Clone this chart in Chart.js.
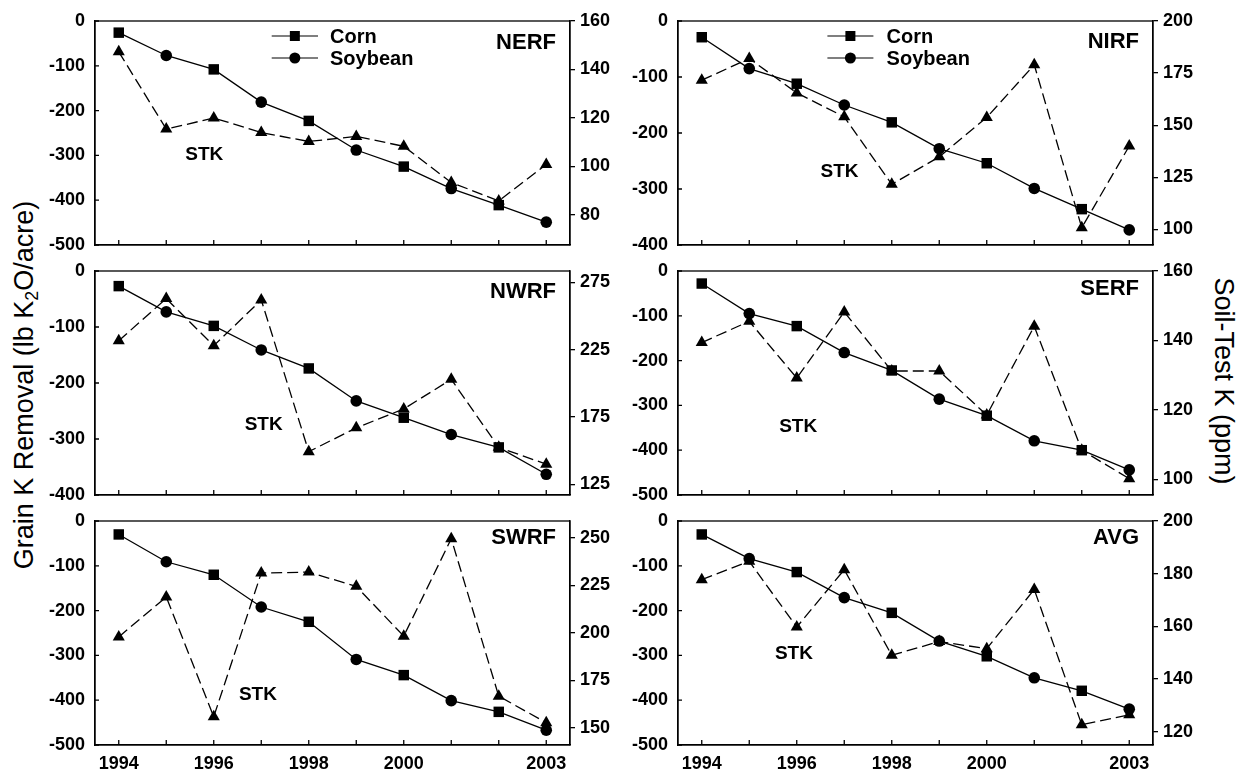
<!DOCTYPE html>
<html>
<head>
<meta charset="utf-8">
<script src="https://cdn.jsdelivr.net/npm/chart.js@4.4.0/dist/chart.umd.min.js"></script>
<style>
  body{margin:0;background:#fff;width:1244px;height:774px;overflow:hidden;position:relative;font-family:"Liberation Sans",Arial,sans-serif}
  canvas{position:absolute}
  .title{position:absolute;font-size:27px;line-height:1;white-space:nowrap;color:#000}
  .title sub{font-size:0.66em;vertical-align:-0.3em;line-height:0}
</style>
</head>
<body>
<div class="title" style="left:24px;top:385px;transform:translate(-50%,-50%) rotate(-90deg)">Grain K Removal (lb K<sub>2</sub>O/acre)</div>
<div class="title" style="left:1223px;top:381px;transform:translate(-50%,-50%) rotate(90deg)">Soil-Test K (ppm)</div>
<script>
// data
const years = [1994,1995,1996,1997,1998,1999,2000,2001,2002,2003]
const crops = ['Corn','Soybean','Corn','Soybean','Corn','Soybean','Corn','Soybean','Corn','Soybean']
const yearLabels = [1994,1996,1998,2000,2003]

const nerfRemoval = [-26,-77,-108,-181,-223,-288,-325,-374,-411,-449]
const nerfStk = [147.3,115.4,120,114,110.3,112.4,108.3,93.4,85.8,100.8]
const nerfTicks = [80,100,120,140,160]

const nirfRemoval = [-29,-85,-112,-150,-181,-228,-254,-299,-336,-373]
const nirfStk = [171.6,182,165.5,154,121.6,134.8,153.7,179,100.8,140]
const nirfTicks = [100,125,150,175,200]

const nwrfRemoval = [-27,-73,-98,-141,-174,-232,-262,-292,-315,-363]
const nwrfStk = [231.7,263,228,262,149.3,167,181,203,152.5,140]
const nwrfTicks = [125,175,225,275]

const serfRemoval = [-28,-95,-123,-182,-222,-286,-323,-379,-400,-444]
const serfStk = [139.4,145.5,129.2,148.2,131.2,131.2,118.5,144.1,108.4,100.2]
const serfTicks = [100,120,140,160]

const swrfRemoval = [-30,-91,-120,-192,-225,-309,-344,-401,-426,-467]
const swrfStk = [197.8,218.8,155.8,231.4,231.9,224.4,198.2,249.5,166.6,152.6]
const swrfTicks = [150,175,200,225,250]

const avgRemoval = [-30,-84,-114,-171,-205,-268,-302,-350,-379,-420]
const avgStk = [177.7,184.7,159.7,181.5,149,154.2,151.5,174,122.6,126.4]
const avgTicks = [120,140,160,180,200]

const FONT = '"Liberation Sans", Arial, sans-serif'
const PLOT_TOP = 21, PLOT_H = 224

// layout of the 6 panels
const col1 = {left:35, width:585, leftW:60, rightW:50, legend:[176.7,223,235]}
const col2 = {left:620, width:590, leftW:58, rightW:57, legend:[149.4,195.4,208.6]}
const rows = [{top:0, h:270}, {top:250, h:270}, {top:500, h:274}]

const panels = [
  {name:'NERF', col:col1, row:0, removal:nerfRemoval, stk:nerfStk, leftMin:-500, rMin:67.6, rMax:160, rTicks:nerfTicks, stkAt:[1995.8,-299], nameDy:22, legend:true},
  {name:'NIRF', col:col2, row:0, removal:nirfRemoval, stk:nirfStk, leftMin:-400, rMin:92.5, rMax:200, rTicks:nirfTicks, stkAt:[1996.9,-270], nameDy:21, legend:true},
  {name:'NWRF', col:col1, row:1, removal:nwrfRemoval, stk:nwrfStk, leftMin:-400, rMin:117.1, rMax:283.5, rTicks:nwrfTicks, stkAt:[1997.05,-275], nameDy:21},
  {name:'SERF', col:col2, row:1, removal:serfRemoval, stk:serfStk, leftMin:-500, rMin:95.5, rMax:160, rTicks:serfTicks, stkAt:[1996.03,-348], nameDy:18},
  {name:'SWRF', col:col1, row:2, removal:swrfRemoval, stk:swrfStk, leftMin:-500, rMin:140.9, rMax:258.8, rTicks:swrfTicks, stkAt:[1996.93,-388], nameDy:17, years:true},
  {name:'AVG', col:col2, row:2, removal:avgRemoval, stk:avgStk, leftMin:-500, rMin:114.9, rMax:200, rTicks:avgTicks, stkAt:[1995.94,-297], nameDy:17, years:true}
]

function marker(ctx, style, x, y){
  ctx.beginPath()
  if(style==='rect') ctx.rect(x-5,y-5,10,10)
  else ctx.arc(x,y,5.5,0,Math.PI*2)
  ctx.fill()
}

const decor = {
  id:'decor',
  afterDraw(chart){
    const p = chart.options.plugins.decor.panel
    const {ctx, chartArea:a, scales} = chart
    ctx.save()
    ctx.strokeStyle = '#000'; ctx.fillStyle = '#000'; ctx.lineWidth = 1.3
    ctx.strokeRect(a.left, a.top, a.right-a.left, a.bottom-a.top)
    // small inward ticks on the left and bottom axes
    ctx.beginPath()
    scales.y.ticks.forEach(t=>{ const y = scales.y.getPixelForValue(t.value); ctx.moveTo(a.left,y); ctx.lineTo(a.left+4,y) })
    years.forEach(v=>{ const x = scales.x.getPixelForValue(v); ctx.moveTo(x,a.bottom); ctx.lineTo(x,a.bottom-5) })
    ctx.stroke()
    ctx.textBaseline = 'middle'
    ctx.font = 'bold 22px '+FONT; ctx.textAlign = 'right'
    ctx.fillText(p.name, a.right-14, a.top+p.nameDy)
    ctx.font = 'bold 19px '+FONT; ctx.textAlign = 'center'
    ctx.fillText('STK', scales.x.getPixelForValue(p.stkAt[0]), scales.y.getPixelForValue(p.stkAt[1]))
    if(p.legend){
      const [x0,x1,tx] = p.col.legend
      ;[['Corn','rect',15],['Soybean','circle',37]].forEach(([label,style,dy])=>{
        const y = a.top+dy
        ctx.lineWidth = 1.2
        ctx.beginPath(); ctx.moveTo(a.left+x0,y); ctx.lineTo(a.left+x1,y); ctx.stroke()
        marker(ctx, style, a.left+(x0+x1)/2, y)
        ctx.font = 'bold 20px '+FONT; ctx.textAlign = 'left'
        ctx.fillText(label, a.left+tx, y+1)
      })
    }
    ctx.restore()
  }
}

function makePanel(p){
  const c = p.col, r = rows[p.row]
  const cv = document.createElement('canvas')
  cv.width = c.width; cv.height = r.h
  cv.style.left = c.left+'px'; cv.style.top = r.top+'px'
  cv.style.width = c.width+'px'; cv.style.height = r.h+'px'
  document.body.appendChild(cv)
  const tickFont = {family:FONT, size:18, weight:'bold'}
  const border = {color:'#000', width:1.3}
  new Chart(cv, {
    type:'line',
    data:{datasets:[
      {data: years.map((y,i)=>({x:y,y:p.removal[i]})), yAxisID:'y',
       borderColor:'#000', borderWidth:1.3, backgroundColor:'#000', pointBorderWidth:0,
       pointStyle: crops.map(k=>k==='Corn'?'rect':'circle'),
       pointRadius: crops.map(k=>k==='Corn'?7.4:5.8)},
      {data: years.map((y,i)=>({x:y,y:p.stk[i]})), yAxisID:'y2',
       borderColor:'#000', borderWidth:1.3, borderDash:[11,5], backgroundColor:'#000', pointBorderWidth:0,
       pointStyle:'triangle', pointRadius:7}
    ]},
    options:{
      responsive:false, animation:false, events:[],
      layout:{padding:{top:PLOT_TOP, left:0, right:0, bottom:0}},
      plugins:{legend:{display:false}, tooltip:{enabled:false}, decor:{panel:p}},
      scales:{
        x:{type:'linear', min:1993.5, max:2003.5,
           afterBuildTicks: s=>{ s.ticks = years.map(v=>({value:v})) },
           afterFit: s=>{ s.height = r.h-PLOT_TOP-PLOT_H },
           grid:{display:false, drawTicks:false}, border,
           ticks:{autoSkip:false, maxRotation:0, padding:8, color:'#000', font:tickFont,
                  callback: v => p.years && yearLabels.includes(v) ? String(v) : ''}},
        y:{position:'left', min:p.leftMin, max:0,
           afterFit: s=>{ s.width = c.leftW },
           grid:{display:false, drawTicks:false}, border,
           ticks:{stepSize:100, padding:10, color:'#000', font:tickFont}},
        y2:{position:'right', min:p.rMin, max:p.rMax,
           afterBuildTicks: s=>{ s.ticks = p.rTicks.map(v=>({value:v})) },
           afterFit: s=>{ s.width = c.rightW },
           grid:{drawOnChartArea:false, drawTicks:true, tickLength:5, color:'#000', lineWidth:1.3}, border,
           ticks:{padding:5, color:'#000', font:tickFont}}
      }
    },
    plugins:[decor]
  })
}

panels.forEach(makePanel)
</script>
</body>
</html>
